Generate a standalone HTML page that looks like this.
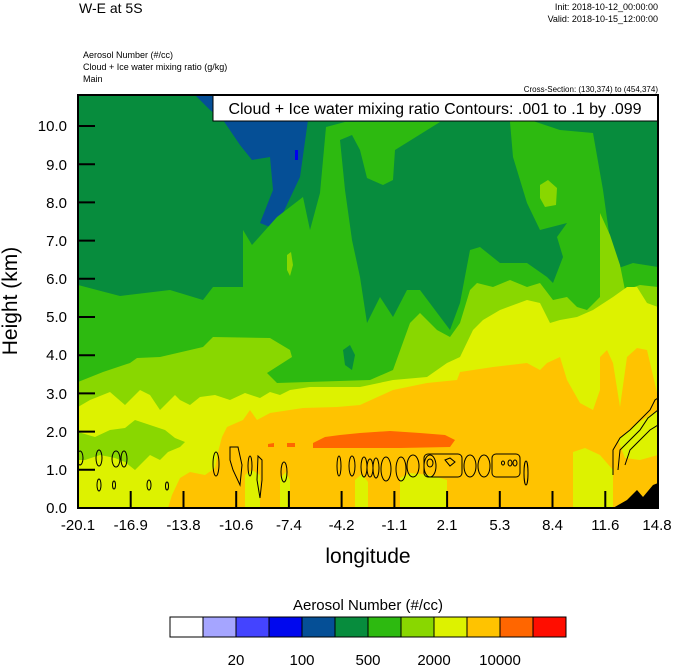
<!DOCTYPE html>
<html><head><meta charset="utf-8"><style>
body{margin:0;background:#fff;}
svg{display:block;font-family:"Liberation Sans",sans-serif;}
</style></head><body>
<svg width="674" height="667" viewBox="0 0 674 667" xmlns="http://www.w3.org/2000/svg">
<defs><clipPath id="pc"><rect x="78" y="95" width="580" height="413"/></clipPath></defs>
<g clip-path="url(#pc)">
<rect x="78" y="95" width="580" height="413" fill="#078C3D"/>
<polygon fill="#054F96" points="195,95 210,110 223,120 240,145 252,160 270,157 273,190 260,223 270,227 283,213 300,177 308,120 310,95"/>
<polygon fill="#054F96" points="474,170 478,168 481,176 477,180"/>
<polygon fill="#0000EE" points="295,150 298,150 298,160 295,160"/>
<polygon fill="#2DBA10" points="78,285 120,296 170,290 203,300 213,287 243,287 243,230 252,245 277,217 303,197 310,230 320,193 326,127 345,122 510,122 513,110 530,120 560,130 593,133 603,190 610,240 613,270 633,263 658,267 658,508 78,508"/>
<polygon fill="#078C3D" points="340,140 345,190 352,240 360,277 367,323 380,297 393,317 407,290 420,290 450,330 460,303 470,250 480,247 500,263 527,263 547,277 553,283 563,257 557,237 567,223 540,230 527,203 513,157 510,122 440,122 395,150 393,180 383,185 367,178 360,150 352,135"/>
<polygon fill="#078C3D" points="343,350 350,345 355,355 352,370 345,365"/>
<polygon fill="#89D700" points="78,382 103,372 130,363 137,358 160,357 203,347 213,337 270,338 290,350 292,357 267,373 277,383 370,380 393,370 410,323 420,313 437,330 450,337 460,323 470,290 477,283 493,287 510,280 527,287 540,283 553,300 567,297 577,307 587,310 600,297 600,213 610,235 620,265 625,290 640,285 658,287 658,508 78,508"/>
<polygon fill="#89D700" points="540,185 548,180 557,188 556,205 545,207 540,198"/>
<polygon fill="#89D700" points="287,255 291,252 293,265 290,276 287,270"/>
<polygon fill="#DDF200" points="78,407 90,400 110,392 125,405 140,390 150,395 160,410 175,395 180,400 190,405 200,397 215,395 230,400 245,393 260,398 270,392 280,395 290,390 310,387 360,387 393,380 427,377 447,363 460,357 473,330 483,320 500,310 527,300 540,303 550,323 560,320 577,317 593,310 613,297 627,287 637,287 647,303 658,307 658,508 78,508"/>
<polygon fill="#89D700" points="78,432 95,437 110,430 125,428 135,420 150,425 165,430 175,438 185,442 180,447 168,452 160,460 150,455 140,465 135,470 125,462 115,458 100,455 85,460 78,460"/>
<polygon fill="#FFC300" points="222,437 227,427 243,420 250,410 257,420 270,413 303,408 337,407 360,405 393,390 427,383 457,380 460,372 493,367 527,363 540,370 547,363 560,357 567,380 580,403 593,410 600,390 600,357 607,350 613,363 620,407 627,357 637,348 647,350 658,397 658,508 168,508 172,495 180,478 190,472 205,475 215,468 218,452"/>
<polygon fill="#DDF200" points="573,452 585,448 600,455 613,470 613,508 573,508"/>
<polygon fill="#DDF200" points="400,478 410,473 430,475 447,480 447,508 400,508"/>
<polygon fill="#DDF200" points="245,475 252,470 260,475 260,508 245,508"/>
<polygon fill="#DDF200" points="280,478 286,472 290,480 290,508 280,508"/>
<polygon fill="#DDF200" points="355,480 362,474 368,482 368,508 355,508"/>
<polygon fill="#DDF200" points="618,440 635,425 650,415 658,410 658,455 640,460 625,458"/>
<polygon fill="#FF6600" points="313,443 325,437 340,435 360,433 390,431 420,433 445,435 455,440 450,447 400,448 340,448 313,448"/>
<polygon fill="#FF6600" points="268,444 274,443 274,447 268,447"/>
<polygon fill="#FF6600" points="287,443 295,443 295,447 287,447"/>
<polygon fill="#000" points="613,508 627,500 637,490 643,497 653,485 658,483 658,508"/>
<g fill="none" stroke="#000" stroke-width="1">
<ellipse cx="80" cy="458" rx="3" ry="7"/>
<ellipse cx="99" cy="458" rx="3" ry="8"/>
<ellipse cx="116" cy="459" rx="4" ry="8"/>
<ellipse cx="124" cy="459" rx="3" ry="8"/>
<ellipse cx="99" cy="485" rx="2" ry="6"/>
<ellipse cx="114" cy="485" rx="1.5" ry="4"/>
<ellipse cx="149" cy="485" rx="2" ry="5"/>
<ellipse cx="167" cy="486" rx="1.5" ry="4"/>
<ellipse cx="216" cy="464" rx="3" ry="12"/>
<path d="M230,447 L238,447 L242,465 L240,485 L233,470 L230,460 Z"/>
<ellipse cx="250" cy="466" rx="2" ry="10"/>
<path d="M258,456 L262,460 L262,480 L260,498 L257,480 Z"/>
<ellipse cx="284" cy="472" rx="3" ry="10"/>
<ellipse cx="339" cy="466" rx="2" ry="10"/>
<ellipse cx="352" cy="466" rx="3" ry="10"/>
<ellipse cx="364" cy="467" rx="3" ry="10"/>
<ellipse cx="370" cy="468" rx="3" ry="9"/>
<ellipse cx="376" cy="468" rx="3" ry="10"/>
<ellipse cx="386" cy="469" rx="5" ry="12"/>
<ellipse cx="401" cy="469" rx="5" ry="12"/>
<ellipse cx="413" cy="466" rx="6" ry="11"/>
<ellipse cx="430" cy="466" rx="6" ry="11"/>
<rect x="424" y="454" width="38" height="23" rx="4"/>
<ellipse cx="430" cy="463" rx="3" ry="4"/>
<path d="M445,460 L450,458 L455,462 L450,466 Z"/>
<ellipse cx="470" cy="466" rx="6" ry="11"/>
<ellipse cx="484" cy="466" rx="6" ry="11"/>
<rect x="492" y="454" width="28" height="23" rx="4"/>
<ellipse cx="503" cy="463" rx="1.5" ry="2"/>
<ellipse cx="510" cy="463" rx="2" ry="3"/>
<ellipse cx="515" cy="463" rx="2" ry="3"/>
<ellipse cx="526" cy="473" rx="2" ry="12"/>
<path d="M613,475 L613,450 L620,438 L630,430 L640,420 L650,410 L655,400 L658,398"/>
<path d="M618,470 L620,450 L630,440 L640,430 L648,418 L658,410"/>
<path d="M625,465 L630,450 L640,440 L650,430 L658,425"/>
</g>
</g>
<rect x="213" y="95" width="445" height="26" fill="#fff" stroke="#000" stroke-width="1"/>
<text x="435" y="114" font-size="16" text-anchor="middle">Cloud + Ice water mixing ratio Contours: .001 to .1 by .099</text>
<rect x="78" y="95" width="580" height="413" fill="none" stroke="#000" stroke-width="2"/>
<g stroke="#000" stroke-width="2">
<line x1="78" y1="508" x2="95" y2="508"/><line x1="78" y1="469.8" x2="95" y2="469.8"/><line x1="78" y1="431.6" x2="95" y2="431.6"/><line x1="78" y1="393.4" x2="95" y2="393.4"/><line x1="78" y1="355.2" x2="95" y2="355.2"/><line x1="78" y1="317" x2="95" y2="317"/><line x1="78" y1="278.8" x2="95" y2="278.8"/><line x1="78" y1="240.6" x2="95" y2="240.6"/><line x1="78" y1="202.4" x2="95" y2="202.4"/><line x1="78" y1="164.2" x2="95" y2="164.2"/><line x1="78" y1="126" x2="95" y2="126"/>
<line x1="130.7" y1="508" x2="130.7" y2="491"/><line x1="183.5" y1="508" x2="183.5" y2="491"/><line x1="236.2" y1="508" x2="236.2" y2="491"/><line x1="288.9" y1="508" x2="288.9" y2="491"/><line x1="341.6" y1="508" x2="341.6" y2="491"/><line x1="394.4" y1="508" x2="394.4" y2="491"/><line x1="447.1" y1="508" x2="447.1" y2="491"/><line x1="499.8" y1="508" x2="499.8" y2="491"/><line x1="552.5" y1="508" x2="552.5" y2="491"/><line x1="605.3" y1="508" x2="605.3" y2="491"/>
</g>
<g font-size="15" text-anchor="end">
<text x="67" y="513">0.0</text><text x="67" y="475">1.0</text><text x="67" y="437">2.0</text><text x="67" y="399">3.0</text><text x="67" y="360">4.0</text><text x="67" y="322">5.0</text><text x="67" y="284">6.0</text><text x="67" y="246">7.0</text><text x="67" y="208">8.0</text><text x="67" y="170">9.0</text><text x="67" y="131">10.0</text>
</g>
<g font-size="15" text-anchor="middle">
<text x="78" y="530">-20.1</text><text x="130.7" y="530">-16.9</text><text x="183.5" y="530">-13.8</text><text x="236.2" y="530">-10.6</text><text x="288.9" y="530">-7.4</text><text x="341.6" y="530">-4.2</text><text x="394.4" y="530">-1.1</text><text x="447.1" y="530">2.1</text><text x="499.8" y="530">5.3</text><text x="552.5" y="530">8.4</text><text x="605.3" y="530">11.6</text><text x="657" y="530">14.8</text>
</g>
<text x="368" y="563" font-size="21" text-anchor="middle">longitude</text>
<text transform="translate(17,301) rotate(-90)" font-size="21" text-anchor="middle">Height (km)</text>
<text x="79" y="13" font-size="14">W-E at 5S</text>
<text x="658" y="10" font-size="9" text-anchor="end">Init: 2018-10-12_00:00:00</text>
<text x="658" y="22" font-size="9" text-anchor="end">Valid: 2018-10-15_12:00:00</text>
<text x="83" y="58" font-size="9">Aerosol Number   (#/cc)</text>
<text x="83" y="70" font-size="9">Cloud + Ice water mixing ratio   (g/kg)</text>
<text x="83" y="82" font-size="9">Main</text>
<text x="658" y="92" font-size="8" text-anchor="end">Cross-Section: (130,374) to (454,374)</text>
<text x="368" y="610" font-size="15" text-anchor="middle">Aerosol Number  (#/cc)</text>
<g stroke="#000" stroke-width="1">
<rect x="170" y="617" width="33" height="20" fill="#FFFFFF"/>
<rect x="203" y="617" width="33" height="20" fill="#A5A5FF"/>
<rect x="236" y="617" width="33" height="20" fill="#4444FF"/>
<rect x="269" y="617" width="33" height="20" fill="#0008EE"/>
<rect x="302" y="617" width="33" height="20" fill="#054F96"/>
<rect x="335" y="617" width="33" height="20" fill="#078C3D"/>
<rect x="368" y="617" width="33" height="20" fill="#2DBA10"/>
<rect x="401" y="617" width="33" height="20" fill="#89D700"/>
<rect x="434" y="617" width="33" height="20" fill="#DDF200"/>
<rect x="467" y="617" width="33" height="20" fill="#FFC300"/>
<rect x="500" y="617" width="33" height="20" fill="#FF6600"/>
<rect x="533" y="617" width="33" height="20" fill="#FF0D00"/>
</g>
<g font-size="15" text-anchor="middle">
<text x="236" y="665">20</text><text x="302" y="665">100</text><text x="368" y="665">500</text><text x="434" y="665">2000</text><text x="500" y="665">10000</text>
</g>
</svg>
</body></html>
